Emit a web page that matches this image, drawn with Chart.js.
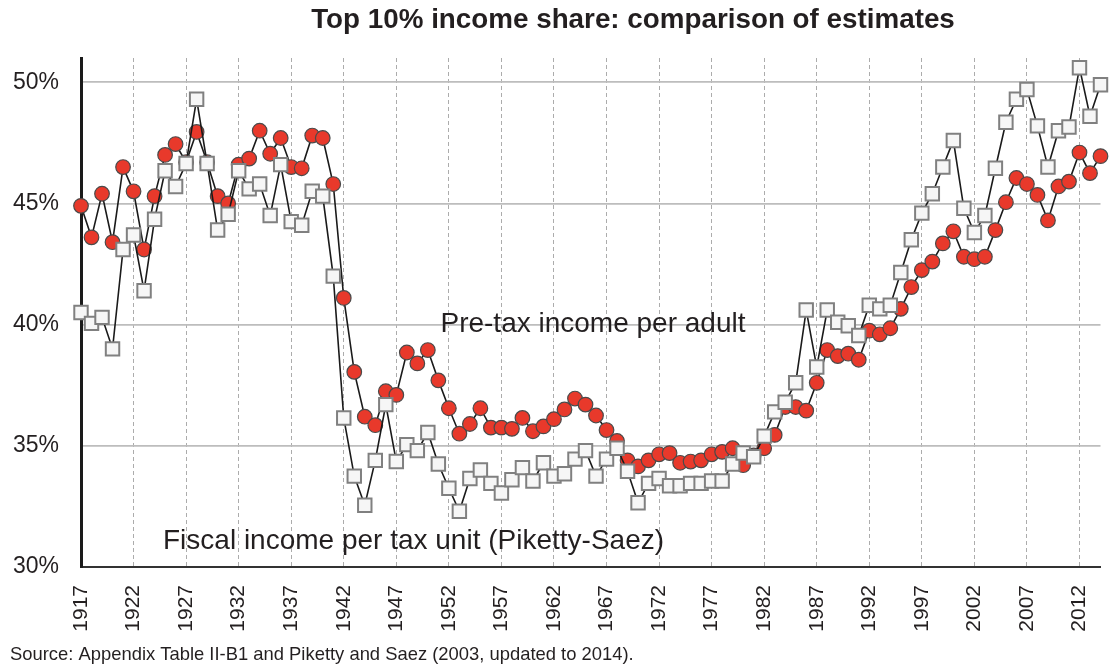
<!DOCTYPE html>
<html>
<head>
<meta charset="utf-8">
<script src="https://cdn.jsdelivr.net/npm/chart.js@4/dist/chart.umd.min.js"></script>
<style>
  html, body { margin: 0; padding: 0; background: #ffffff; }
  #wrap { width: 1112px; height: 669px; }
</style>
</head>
<body>
<div id="wrap"><canvas id="c" width="1112" height="669"></canvas></div>
<script>
const TITLE = "Top 10% income share: comparison of estimates";
const SOURCE = "Source: Appendix Table II-B1 and Piketty and Saez (2003, updated to 2014).";
const LABEL_PRETAX = "Pre-tax income per adult";
const LABEL_FISCAL = "Fiscal income per tax unit (Piketty-Saez)";

const years = [
  1917,1918,1919,1920,1921,1922,1923,1924,1925,1926,
  1927,1928,1929,1930,1931,1932,1933,1934,1935,1936,
  1937,1938,1939,1940,1941,1942,1943,1944,1945,1946,
  1947,1948,1949,1950,1951,1952,1953,1954,1955,1956,
  1957,1958,1959,1960,1961,1962,1963,1964,1965,1966,
  1967,1968,1969,1970,1971,1972,1973,1974,1975,1976,
  1977,1978,1979,1980,1981,1982,1983,1984,1985,1986,
  1987,1988,1989,1990,1991,1992,1993,1994,1995,1996,
  1997,1998,1999,2000,2001,2002,2003,2004,2005,2006,
  2007,2008,2009,2010,2011,2012,2013,2014
];

// Pre-tax income per adult (red circles), %
const pretaxPerAdult = [
  44.9,43.6,45.4,43.4,46.5,45.5,43.1,45.3,47.0,47.45,
  46.7,47.95,46.7,45.3,45.0,46.6,46.85,48.0,47.05,47.7,
  46.5,46.45,47.8,47.7,45.8,41.1,38.05,36.2,35.85,37.25,
  37.1,38.85,38.4,38.95,37.7,36.55,35.5,35.9,36.55,35.75,
  35.75,35.7,36.15,35.6,35.8,36.1,36.5,36.95,36.7,36.25,
  35.65,35.2,34.4,34.15,34.4,34.65,34.7,34.3,34.35,34.4,
  34.65,34.75,34.9,34.2,34.6,34.9,35.45,36.6,36.6,36.45,
  37.6,38.95,38.7,38.8,38.55,39.75,39.6,39.85,40.65,41.55,
  42.25,42.6,43.35,43.85,42.8,42.7,42.8,43.9,45.05,46.05,
  45.8,45.35,44.3,45.7,45.9,47.1,46.25,46.95
];

// Fiscal income per tax unit, Piketty-Saez (white squares), %
const fiscalPerTaxUnit = [
  40.5,40.05,40.3,39.0,43.1,43.7,41.4,44.35,46.35,45.7,
  46.65,49.3,46.65,43.9,44.55,46.35,45.6,45.8,44.5,46.6,
  44.25,44.1,45.5,45.3,42.0,36.15,33.75,32.55,34.4,36.7,
  34.35,35.05,34.8,35.55,34.25,33.25,32.3,33.65,34.0,33.45,
  33.05,33.6,34.1,33.55,34.3,33.75,33.85,34.45,34.8,33.75,
  34.45,34.9,33.95,32.65,33.45,33.65,33.35,33.35,33.45,33.45,
  33.55,33.55,34.25,34.7,34.55,35.4,36.4,36.8,37.6,40.6,
  38.25,40.6,40.1,39.95,39.55,40.8,40.65,40.8,42.15,43.5,
  44.6,45.4,46.5,47.6,44.8,43.8,44.5,46.45,48.35,49.3,
  49.7,48.2,46.5,48.0,48.15,50.6,48.6,49.9
];

const xTickYears = [1917,1922,1927,1932,1937,1942,1947,1952,1957,1962,1967,1972,1977,1982,1987,1992,1997,2002,2007,2012];
const yTickValues = [30,35,40,45,50];

const FONT = '"Liberation Sans", Arial, Helvetica, sans-serif';
const TEXT_COLOR = '#231f20';

const textPlugin = {
  id: 'texts',
  afterDraw(chart) {
    const ctx = chart.ctx;
    const xs = chart.scales.x, ys = chart.scales.y;
    ctx.save();
    ctx.fillStyle = TEXT_COLOR;
    ctx.textBaseline = 'middle';
    ctx.textAlign = 'center';
    ctx.font = 'bold 27.8px ' + FONT;
    ctx.fillText(TITLE, 633, 20);
    ctx.textAlign = 'left';
    ctx.font = '28px ' + FONT;
    ctx.fillText(LABEL_PRETAX, xs.getPixelForValue(1951.2), ys.getPixelForValue(40.0));
    ctx.fillText(LABEL_FISCAL, xs.getPixelForValue(1924.8), ys.getPixelForValue(31.05));
    ctx.font = '18.4px ' + FONT;
    ctx.fillText(SOURCE, 10, 655);
    ctx.restore();
  }
};

const ctx = document.getElementById('c').getContext('2d');
new Chart(ctx, {
  type: 'line',
  data: {
    datasets: [
      {
        label: LABEL_FISCAL,
        data: years.map((yr, i) => ({ x: yr, y: fiscalPerTaxUnit[i] })),
        borderColor: '#1a1a1a',
        borderWidth: 1.6,
        pointStyle: 'rect',
        pointRadius: 9.5,
        pointBackgroundColor: '#f6f6f6',
        pointBorderColor: '#808080',
        pointBorderWidth: 2,
        tension: 0,
        clip: false,
        order: 0
      },
      {
        label: LABEL_PRETAX,
        data: years.map((yr, i) => ({ x: yr, y: pretaxPerAdult[i] })),
        borderColor: '#1a1a1a',
        borderWidth: 1.6,
        pointStyle: 'circle',
        pointRadius: 7.3,
        pointBackgroundColor: '#e8392b',
        pointBorderColor: '#4a4a4a',
        pointBorderWidth: 1.2,
        tension: 0,
        clip: false,
        order: 1
      }
    ]
  },
  options: {
    responsive: false,
    animation: false,
    devicePixelRatio: 1,
    layout: { padding: { top: 58, right: 6, left: 0, bottom: 0 } },
    plugins: {
      legend: { display: false },
      title: { display: false },
      tooltip: { enabled: false }
    },
    scales: {
      x: {
        type: 'linear',
        min: 1917,
        max: 2014,
        afterBuildTicks: (scale) => { scale.ticks = xTickYears.map(v => ({ value: v })); },
        afterFit: (scale) => {
          scale.height = 102;
          scale.paddingLeft = 0;
          scale.paddingRight = 0;
        },
        ticks: {
          autoSkip: false,
          minRotation: 90,
          maxRotation: 90,
          padding: 18,
          color: TEXT_COLOR,
          font: { family: FONT, size: 21 },
          callback: (v) => String(v)
        },
        grid: {
          drawTicks: false,
          lineWidth: 1,
          color: (c) => (c.tick && c.tick.value === 1917) ? 'rgba(0,0,0,0)' : '#acacac'
        },
        border: { display: true, color: '#333333', width: 2, dash: [4, 3] }
      },
      y: {
        min: 30,
        max: 51,
        afterBuildTicks: (scale) => { scale.ticks = yTickValues.map(v => ({ value: v })); },
        afterFit: (scale) => { scale.width = 81; },
        ticks: {
          padding: 22,
          color: TEXT_COLOR,
          font: { family: FONT, size: 23 },
          callback: (v) => v + '%'
        },
        grid: {
          drawTicks: false,
          lineWidth: 1.8,
          color: '#bdbdbd'
        },
        border: { display: true, color: '#1a1a1a', width: 3 }
      }
    }
  },
  plugins: [textPlugin]
});
</script>
</body>
</html>
